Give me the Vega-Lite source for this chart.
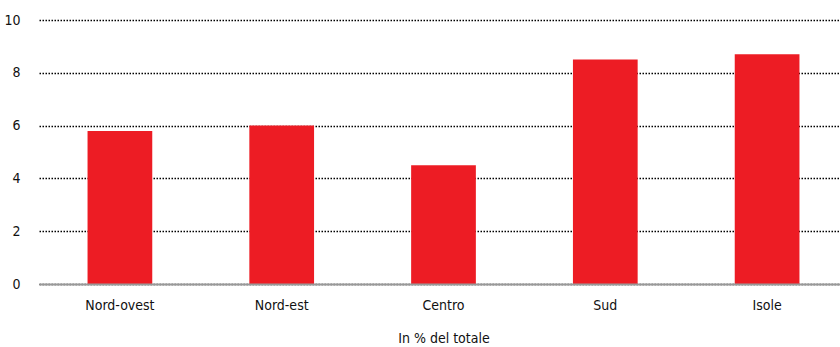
{
  "$schema": "https://vega.github.io/schema/vega-lite/v6.json",
  "autosize": "none",
  "padding": {"left": 39, "top": 20, "right": 0, "bottom": 63},
  "width": 809,
  "height": 264,
  "background": "white",
  "config": {
    "view": {"stroke": null},
    "font": "DejaVu Sans Condensed"
  },
  "data": {
    "values": [
      {"area": "Nord-ovest", "value": 5.8},
      {"area": "Nord-est", "value": 6.0},
      {"area": "Centro", "value": 4.5},
      {"area": "Sud", "value": 8.5},
      {"area": "Isole", "value": 8.7}
    ]
  },
  "mark": {"type": "bar", "color": "#ED1C24"},
  "encoding": {
    "x": {
      "field": "area",
      "type": "nominal",
      "sort": null,
      "scale": {"paddingInner": 0.6, "paddingOuter": 0.3},
      "axis": {
        "zindex": 1,
        "title": "In % del totale",
        "titleFont": "DejaVu Sans Condensed",
        "titleFontSize": 14,
        "titleFontWeight": "normal",
        "titleColor": "#111",
        "titlePadding": 19,
        "labelFont": "DejaVu Sans Condensed",
        "labelAngle": 0,
        "labelFontSize": 14,
        "labelColor": "#111",
        "labelPadding": 14,
        "ticks": false,
        "domainColor": "#999",
        "domainWidth": 2
      }
    },
    "y": {
      "field": "value",
      "type": "quantitative",
      "scale": {"domain": [0, 10]},
      "axis": {
        "title": null,
        "values": [0, 2, 4, 6, 8, 10],
        "labelFont": "DejaVu Sans Condensed",
        "labelFontSize": 14,
        "labelColor": "#111",
        "labelPadding": 19,
        "ticks": false,
        "domain": false,
        "gridColor": "#000",
        "gridDash": [1.5, 1.5],
        "gridWidth": 1.3,
        "gridOpacity": 1
      }
    }
  }
}
